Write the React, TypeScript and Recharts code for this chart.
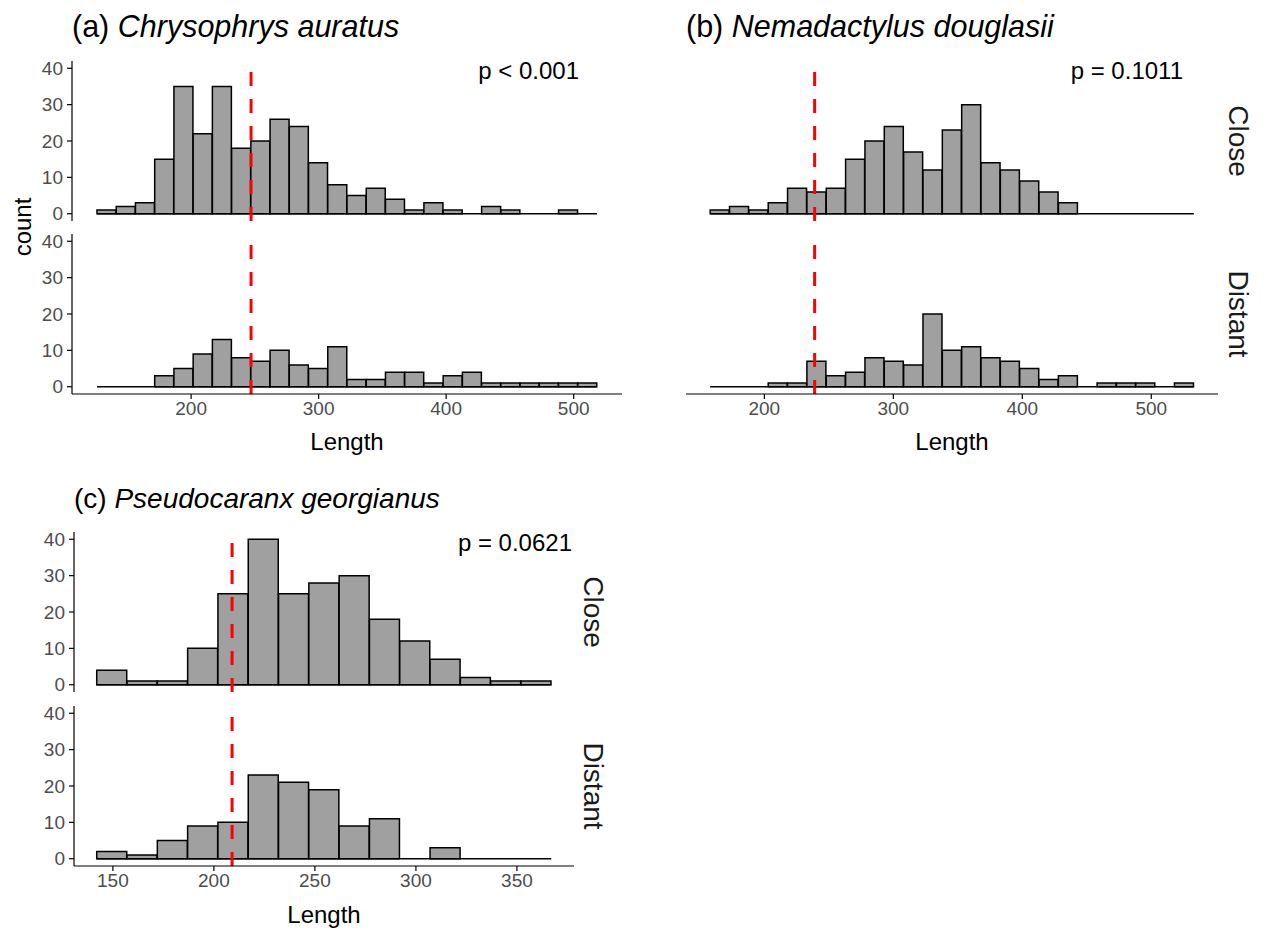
import React from 'react';
import { BarChart, Bar, XAxis, YAxis, ReferenceLine } from 'recharts';

// (a) Chrysophrys auratus
const binStartA = 126.2;
const binWidthA = 15.08;
const closeA = [1, 2, 3, 15, 35, 22, 35, 18, 20, 26, 24, 14, 8, 5, 7, 4, 1, 3, 1, 0, 2, 1, 0, 0, 1, 0];
const distantA = [0, 0, 0, 3, 5, 9, 13, 8, 7, 10, 6, 5, 11, 2, 2, 4, 4, 1, 3, 4, 1, 1, 1, 1, 1, 1];
const meanA = 247;
const ticksA = [200, 300, 400, 500];
const pLabelA = 'p < 0.001';

// (b) Nemadactylus douglasii
const binStartB = 158;
const binWidthB = 15;
const closeB = [1, 2, 1, 3, 7, 6, 7, 15, 20, 24, 17, 12, 23, 30, 14, 12, 9, 6, 3, 0, 0, 0, 0, 0, 0];
const distantB = [0, 0, 0, 1, 1, 7, 3, 4, 8, 7, 6, 20, 10, 11, 8, 7, 5, 2, 3, 0, 1, 1, 1, 0, 1];
const meanB = 239;
const ticksB = [200, 300, 400, 500];
const pLabelB = 'p = 0.1011';

// (c) Pseudocaranx georgianus
const binStartC = 142;
const binWidthC = 15;
const closeC = [4, 1, 1, 10, 25, 40, 25, 28, 30, 18, 12, 7, 2, 1, 1];
const distantC = [2, 1, 5, 9, 10, 23, 21, 19, 9, 11, 0, 3, 0, 0, 0];
const meanC = 209;
const ticksC = [150, 200, 250, 300, 350];
const pLabelC = 'p = 0.0621';

const countTicks = [0, 10, 20, 30, 40];
const countDomain = [-2, 42];

const FONT = '"Liberation Sans", Arial, sans-serif';
const PLOT_H = 160;
const PAD_V = 12; // room above/below the panel so edge tick labels are not clipped
const Y_AXIS_W = 60;
const X_AXIS_H = 30;
const TICK_GREY = '#4D4D4D';

type FacetProps = {
  counts: number[];
  binStart: number;
  binWidth: number;
  mean: number;
  ticks: number[];
  left: number;
  top: number;
  plotWidth: number;
  showX: boolean;
  showY: boolean;
};

// one facet of a histogram: bars centred on bin mids over a numeric Length axis
const Facet: React.FC<FacetProps> = ({ counts, binStart, binWidth, mean, ticks, left, top, plotWidth, showX, showY }) => {
  const bins = counts.map((count, i) => ({ mid: binStart + binWidth * (i + 0.5), count }));
  const lo = binStart;
  const hi = binStart + binWidth * counts.length;
  const pad = (hi - lo) * 0.05;
  const yW = showY ? Y_AXIS_W : 0;

  return (
    <div style={{ position: 'absolute', left: left - yW, top: top - PAD_V }}>
      <BarChart
        width={yW + plotWidth + 4}
        height={PLOT_H + 2 * PAD_V + (showX ? X_AXIS_H : 0)}
        data={bins}
        margin={{ top: PAD_V, right: 4, bottom: PAD_V, left: 0 }}
        barCategoryGap={0}
        barGap={0}
      >
        <XAxis
          dataKey="mid"
          type="number"
          domain={[lo - pad, hi + pad]}
          ticks={ticks}
          interval={0}
          allowDataOverflow
          hide={!showX}
          height={X_AXIS_H}
          tickSize={5}
          tickMargin={3}
          axisLine={{ stroke: '#000', strokeWidth: 1.2 }}
          tickLine={{ stroke: '#000', strokeWidth: 1.2 }}
          tick={{ fill: TICK_GREY, fontSize: 19, fontFamily: FONT }}
        />
        <YAxis
          type="number"
          domain={countDomain}
          ticks={countTicks}
          interval={0}
          allowDataOverflow
          hide={!showY}
          width={Y_AXIS_W}
          tickSize={5}
          tickMargin={4}
          axisLine={{ stroke: '#000', strokeWidth: 1.2 }}
          tickLine={{ stroke: '#000', strokeWidth: 1.2 }}
          tick={{ fill: TICK_GREY, fontSize: 19, fontFamily: FONT }}
        />
        <ReferenceLine
          segment={[{ x: lo, y: 0 }, { x: hi, y: 0 }]}
          stroke="#000"
          strokeWidth={1.5}
          ifOverflow="visible"
        />
        <Bar dataKey="count" fill="#A0A0A0" stroke="#000" strokeWidth={1.5} isAnimationActive={false} />
        <ReferenceLine
          segment={[{ x: mean, y: countDomain[0] }, { x: mean, y: countDomain[1] }]}
          stroke="#FF0000"
          strokeWidth={3}
          strokeDasharray="14 13"
          ifOverflow="visible"
        />
      </BarChart>
    </div>
  );
};

const App: React.FC = () => {
  return (
    <div style={{ position: 'absolute', left: 0, top: 0, width: 1263, height: 929, background: '#fff', fontFamily: FONT }}>
      <Facet counts={closeA} binStart={binStartA} binWidth={binWidthA} mean={meanA} ticks={ticksA}
        left={72} top={61} plotWidth={550} showX={false} showY />
      <Facet counts={distantA} binStart={binStartA} binWidth={binWidthA} mean={meanA} ticks={ticksA}
        left={72} top={234} plotWidth={550} showX showY />

      <Facet counts={closeB} binStart={binStartB} binWidth={binWidthB} mean={meanB} ticks={ticksB}
        left={686} top={61} plotWidth={532} showX={false} showY={false} />
      <Facet counts={distantB} binStart={binStartB} binWidth={binWidthB} mean={meanB} ticks={ticksB}
        left={686} top={234} plotWidth={532} showX showY={false} />

      <Facet counts={closeC} binStart={binStartC} binWidth={binWidthC} mean={meanC} ticks={ticksC}
        left={74} top={532} plotWidth={500} showX={false} showY />
      <Facet counts={distantC} binStart={binStartC} binWidth={binWidthC} mean={meanC} ticks={ticksC}
        left={74} top={706} plotWidth={500} showX showY />

      {/* titles, axis titles, strip labels and p-values */}
      <svg width={1263} height={929} style={{ position: 'absolute', left: 0, top: 0, pointerEvents: 'none' }}
        fontFamily={FONT} fill="#000">
        <text x={72} y={37} fontSize={30.5}>(a) <tspan fontStyle="italic">Chrysophrys auratus</tspan></text>
        <text x={686} y={37} fontSize={30.5}>(b) <tspan fontStyle="italic">Nemadactylus douglasii</tspan></text>
        <text x={74} y={508} fontSize={28}>(c) <tspan fontStyle="italic">Pseudocaranx georgianus</tspan></text>

        <text x={579} y={79} fontSize={24} textAnchor="end">{pLabelA}</text>
        <text x={1183} y={79} fontSize={24} textAnchor="end">{pLabelB}</text>
        <text x={572} y={551} fontSize={24} textAnchor="end">{pLabelC}</text>

        <text transform="translate(22,227) rotate(-90)" fontSize={24} textAnchor="middle" dominantBaseline="central">count</text>
        <text x={347} y={450} fontSize={24} textAnchor="middle">Length</text>
        <text x={952} y={450} fontSize={24} textAnchor="middle">Length</text>
        <text x={324} y={923} fontSize={24} textAnchor="middle">Length</text>

        <text transform="translate(1238,141) rotate(90)" fontSize={28} textAnchor="middle" dominantBaseline="central" fill="#1A1A1A">Close</text>
        <text transform="translate(1238,314) rotate(90)" fontSize={28} textAnchor="middle" dominantBaseline="central" fill="#1A1A1A">Distant</text>
        <text transform="translate(593,612) rotate(90)" fontSize={28} textAnchor="middle" dominantBaseline="central" fill="#1A1A1A">Close</text>
        <text transform="translate(593,786) rotate(90)" fontSize={28} textAnchor="middle" dominantBaseline="central" fill="#1A1A1A">Distant</text>
      </svg>
    </div>
  );
};

export default App;
